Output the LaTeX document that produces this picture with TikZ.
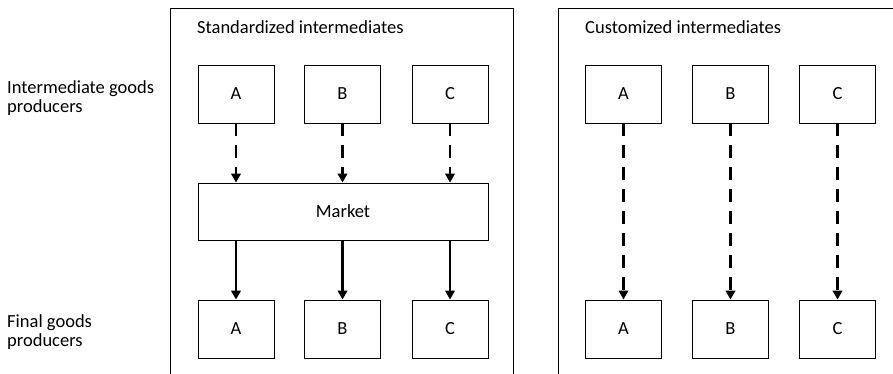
\documentclass[tikz,border=0pt]{standalone}
\usepackage{fontspec}
\setmainfont{Carlito}
\usetikzlibrary{arrows.meta}
\begin{document}
\begin{tikzpicture}[x=1pt,y=-1pt,
  every node/.style={font=\fontsize{18.5}{19}\selectfont},
  prod/.style={draw,line width=0.9pt,minimum width=76pt,minimum height=58pt,inner sep=0pt},
  panel/.style={draw,line width=0.9pt},
  flow/.style={line width=2.7pt,-{Triangle[length=9pt,width=9.5pt]}},
  dflow/.style={flow,dash pattern=on 13pt off 9pt},
  lbl/.style={anchor=base west,inner sep=0pt,align=left}]
\useasboundingbox (0,0) rectangle (893,374);
% panels
\draw[panel] (170,380) -- (170,8) -- (513,8) -- (513,380);
\draw[panel] (558,380) -- (558,8) -- (900,8);
\node[lbl] (t1) at (197,33.5) {Standardized intermediates};
\node[lbl] (t2) at (585,33.5) {Customized intermediates};
% side labels
\node[lbl] (l1) at (7,113) {Intermediate goods\\producers};
\node[lbl] (l2) at (7,346) {Final goods\\producers};
% left panel
\node[prod] (ia) at (236,94) {A};
\node[prod] (ib) at (342.5,94) {B};
\node[prod] (ic) at (450,94) {C};
\node[prod,minimum width=290pt,minimum height=57pt] (m) at (343,211.5) {Market};
\node[prod] (fa) at (236,329) {A};
\node[prod] (fb) at (342.5,329) {B};
\node[prod] (fc) at (450,329) {C};
\foreach \n in {a,b,c}{
  \draw[dflow] (i\n.south) -- (i\n.south |- m.north);
  \draw[flow] (f\n.north |- m.south) -- (f\n.north);
}
% right panel
\node[prod] (ja) at (623.5,94) {A};
\node[prod] (jb) at (730.5,94) {B};
\node[prod] (jc) at (837.5,94) {C};
\node[prod] (ga) at (623.5,329) {A};
\node[prod] (gb) at (730.5,329) {B};
\node[prod] (gc) at (837.5,329) {C};
\foreach \n in {a,b,c}{
  \draw[dflow] (j\n.south) -- (g\n.north);
}
\end{tikzpicture}
\end{document}
